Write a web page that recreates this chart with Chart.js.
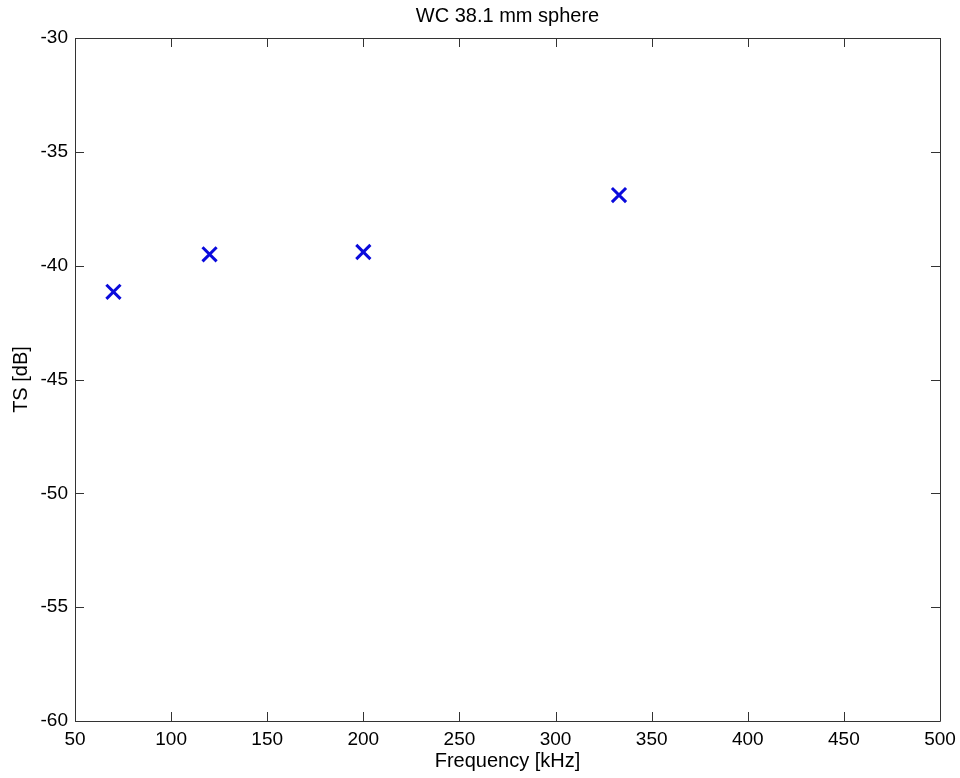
<!DOCTYPE html>
<html>
<head>
<style>
  body { margin: 0; background: #fff; }
  #wrap { width: 960px; height: 778px; }
</style>
</head>
<body>
<div id="wrap"><canvas id="tsChart"></canvas></div>
<script src="https://cdn.jsdelivr.net/npm/chart.js"></script>
<script>
  var frequencies = [70, 120, 200, 333];
  var tsValues = [-41.15, -39.5, -39.4, -36.9];
  var xTicks = [50, 100, 150, 200, 250, 300, 350, 400, 450, 500];
  var yTicks = [-60, -55, -50, -45, -40, -35, -30];

  var points = frequencies.map(function (f, i) { return {x: f, y: tsValues[i]}; });

  // matlab style box with inward ticks on all four sides
  var boxPlugin = {
    id: 'boxTicks',
    afterDraw: function (chart) {
      var ctx = chart.ctx;
      var a = chart.chartArea;
      var xs = chart.scales.x, ys = chart.scales.y;
      var len = 9;
      ctx.save();
      ctx.strokeStyle = '#333';
      ctx.lineWidth = 1;
      ctx.beginPath();
      ctx.rect(a.left + 0.5, a.top + 0.5, a.right - a.left, a.bottom - a.top);
      xTicks.forEach(function (v) {
        var px = Math.round(xs.getPixelForValue(v)) + 0.5;
        ctx.moveTo(px, a.bottom); ctx.lineTo(px, a.bottom - len);
        ctx.moveTo(px, a.top); ctx.lineTo(px, a.top + len);
      });
      yTicks.forEach(function (v) {
        var py = Math.round(ys.getPixelForValue(v)) + 0.5;
        ctx.moveTo(a.left, py); ctx.lineTo(a.left + len, py);
        ctx.moveTo(a.right, py); ctx.lineTo(a.right - len, py);
      });
      ctx.stroke();
      ctx.restore();
    }
  };

  var font = "'Liberation Sans', Arial, sans-serif";

  new Chart(document.getElementById('tsChart').getContext('2d'), {
    type: 'scatter',
    data: {
      datasets: [{
        data: points,
        pointStyle: 'crossRot',
        pointRadius: 10,
        pointHoverRadius: 10,
        borderWidth: 3,
        borderColor: 'rgb(10, 10, 220)',
        backgroundColor: 'rgb(10, 10, 220)'
      }]
    },
    options: {
      responsive: true,
      maintainAspectRatio: false,
      animation: false,
      layout: { padding: { left: 0, right: 20, top: 0, bottom: 0 } },
      plugins: { legend: { display: false }, tooltip: { enabled: false } },
      scales: {
        x: {
          type: 'linear',
          position: 'bottom',
          min: 50, max: 500,
          afterBuildTicks: function (s) { s.ticks = xTicks.map(function (v) { return {value: v}; }); },
          afterFit: function (s) { s.height = 57; s.paddingLeft = 0; s.paddingRight = 0; },
          grid: { display: false, drawTicks: false },
          border: { display: false },
          ticks: { color: '#000', padding: 7, font: { family: font, size: 19 }, maxRotation: 0 },
          title: { display: true, text: 'Frequency [kHz]', color: '#000', padding: { top: 0, bottom: 5 }, font: { family: font, size: 20 } }
        },
        x2: {
          type: 'linear',
          position: 'top',
          min: 50, max: 500,
          afterFit: function (s) { s.height = 38; s.paddingLeft = 0; s.paddingRight = 0; },
          grid: { display: false, drawTicks: false },
          border: { display: false },
          ticks: { display: false },
          title: { display: true, text: 'WC 38.1 mm sphere', color: '#000', padding: { top: 4, bottom: 0 }, font: { family: font, size: 20 } }
        },
        y: {
          type: 'linear',
          min: -60, max: -30,
          afterBuildTicks: function (s) { s.ticks = yTicks.map(function (v) { return {value: v}; }); },
          afterFit: function (s) { s.width = 75; s.paddingTop = 0; s.paddingBottom = 0; },
          grid: { display: false, drawTicks: false },
          border: { display: false },
          ticks: { color: '#000', padding: 7, font: { family: font, size: 19 } },
          title: { display: true, text: 'TS [dB]', color: '#000', padding: { top: 9, bottom: 0 }, font: { family: font, size: 20 } }
        }
      }
    },
    plugins: [boxPlugin]
  });
</script>
</body>
</html>
